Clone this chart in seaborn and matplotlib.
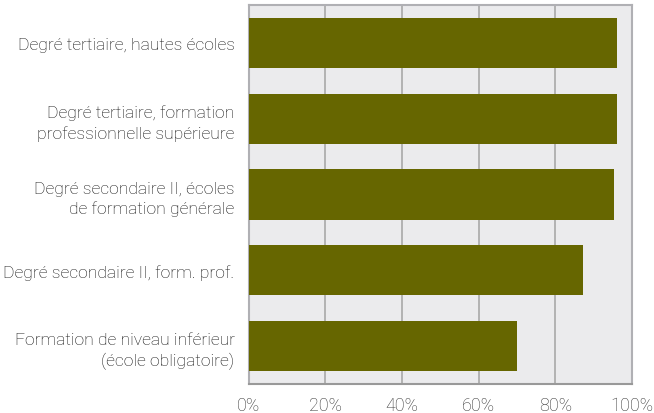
import matplotlib
matplotlib.use('Agg')
import matplotlib.pyplot as plt
import seaborn as sns
import pandas as pd
from matplotlib.ticker import PercentFormatter

# data
categories = [
    'Degré tertiaire, hautes écoles',
    'Degré tertiaire, formation\nprofessionnelle supérieure',
    'Degré secondaire II, écoles\nde formation générale',
    'Degré secondaire II, form. prof.',
    'Formation de niveau inférieur\n(école obligatoire)',
]
values = [96.1, 96.1, 95.3, 87.2, 70.0]
x_ticks = [0, 20, 40, 60, 80, 100]

sns.set_style('whitegrid')
plt.rcParams['font.family'] = ['Roboto', 'DejaVu Sans']

df = pd.DataFrame({'cat': categories, 'val': values})

fig = plt.figure(figsize=(6.54, 4.14), dpi=100)
ax = fig.add_axes([248.5 / 654, 29 / 414, 383.5 / 654, 379 / 414])
ax.set_facecolor('#ebebed')

sns.barplot(data=df, x='val', y='cat', color='#666600', saturation=1,
            width=0.66, linewidth=0, ax=ax, zorder=3)

ax.set_xlim(0, 100)
ax.set_xticks(x_ticks)
ax.xaxis.set_major_formatter(PercentFormatter(decimals=0))
ax.grid(axis='x', color='#a8a8a8', linewidth=1.2, zorder=0)
ax.grid(axis='y', visible=False)
ax.set_axisbelow(True)
ax.set_xlabel('')
ax.set_ylabel('')

for side in ['top', 'right', 'left']:
    ax.spines[side].set_color('#b0b0b4')
    ax.spines[side].set_linewidth(1.5)
ax.spines['bottom'].set_color('#999999')
ax.spines['bottom'].set_linewidth(1.5)

ax.tick_params(axis='x', length=4, color='#999999', width=1.2,
               labelsize=13, labelcolor='#333333', pad=5)
ax.tick_params(axis='y', length=0, labelsize=12.6, labelcolor='#111111', pad=10)
for lbl in ax.get_yticklabels():
    lbl.set_fontweight('light')
    lbl.set_horizontalalignment('right')
    lbl.set_multialignment('right')
    lbl.set_linespacing(1.4)
for lbl in ax.get_xticklabels():
    lbl.set_fontweight('light')

fig.savefig('out.png', dpi=100)
